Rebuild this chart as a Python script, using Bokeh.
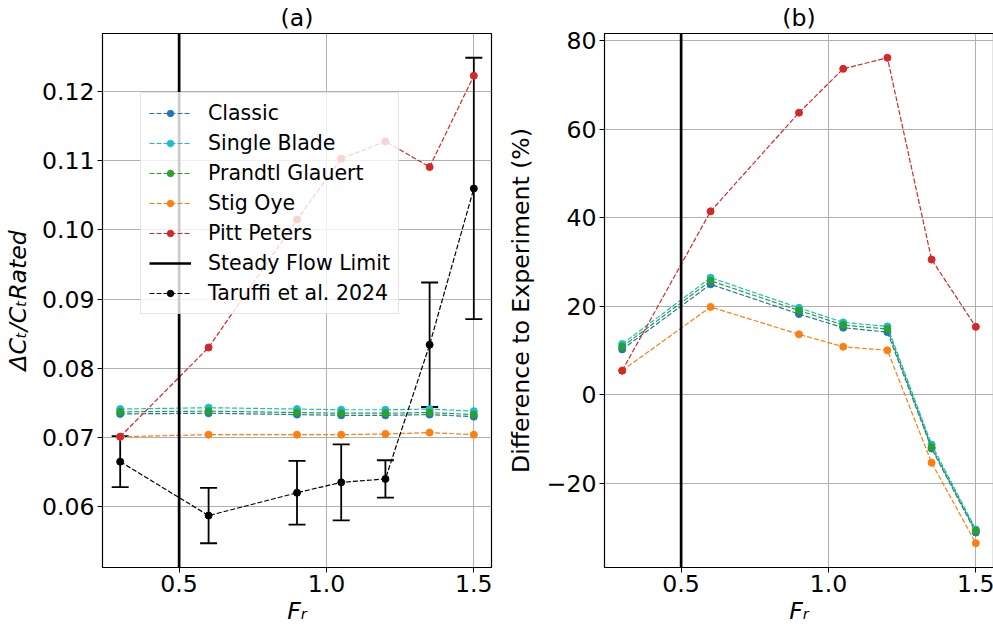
import numpy as np
from bokeh.plotting import figure
from bokeh.models import (Range1d, FixedTicker, PrintfTickFormatter, CustomJSTickFormatter,
                          Whisker, TeeHead, ColumnDataSource, Legend, LegendItem, Span)
from bokeh.layouts import row
from bokeh.embed import file_html
from bokeh.resources import INLINE

# Froude numbers of the test cases
fr = [0.3, 0.6, 0.9, 1.05, 1.2, 1.35, 1.5]
steady_flow_limit = 0.5

# (a) thrust amplitude normalised by rated thrust
ct_classic = [0.0734, 0.0735, 0.0733, 0.0732, 0.0732, 0.0733, 0.0730]
ct_single_blade = [0.0741, 0.0743, 0.0741, 0.0740, 0.0740, 0.0741, 0.0738]
ct_prandtl = [0.0737, 0.0738, 0.0736, 0.0735, 0.0735, 0.0736, 0.0733]
ct_stig_oye = [0.0701, 0.0704, 0.0704, 0.0704, 0.0705, 0.0707, 0.0704]
ct_pitt_peters = [0.0701, 0.0830, 0.1015, 0.1103, 0.1128, 0.1091, 0.1223]
ct_taruffi = [0.0665, 0.0587, 0.0620, 0.0635, 0.0640, 0.0834, 0.1060]
ct_taruffi_err = [0.0037, 0.0040, 0.0046, 0.0055, 0.0027, 0.0090, 0.0189]

# (b) difference to experiment, percent
diff_classic = [10.3, 25.0, 18.3, 15.2, 14.2, -12.1, -31.1]
diff_single_blade = [11.5, 26.5, 19.7, 16.4, 15.5, -11.2, -30.4]
diff_prandtl = [10.9, 25.8, 19.1, 15.8, 14.9, -11.8, -30.7]
diff_stig_oye = [5.5, 19.9, 13.7, 10.9, 10.1, -15.3, -33.5]
diff_pitt_peters = [5.5, 41.5, 63.8, 73.7, 76.2, 30.6, 15.4]

model_names = ["Classic", "Single Blade", "Prandtl Glauert", "Stig Oye", "Pitt Peters"]
model_colors = ["#1f77b4", "#17becf", "#2ca02c", "#ff7f0e", "#d62728"]

FONT = "DejaVu Sans"
BIG = "23.6px"
DASH = "5 2"


def padded(lo, hi, frac=0.05):
    span = hi - lo
    return lo - frac * span, hi + frac * span


def style(p, title):
    p.title.text = title
    p.title.align = "center"
    p.title.text_font = FONT
    p.title.text_font_size = BIG
    p.title.text_font_style = "normal"
    p.title.text_color = "black"
    p.title.standoff = 3
    p.outline_line_color = "black"
    p.outline_line_width = 1.2
    p.outline_line_alpha = 1.0
    for ax in (p.xaxis[0], p.yaxis[0]):
        ax.major_label_text_font = FONT
        ax.major_label_text_font_size = BIG
        ax.major_label_text_color = "black"
        ax.axis_label_text_font = FONT
        ax.axis_label_text_font_size = BIG
        ax.axis_label_text_color = "black"
        ax.major_tick_out = 5
        ax.major_tick_in = 0
        ax.major_tick_line_color = "black"
        ax.minor_tick_line_color = None
        ax.axis_line_color = "black"
    p.xaxis.major_label_standoff = 2
    p.xaxis.axis_label_standoff = 2
    p.yaxis.major_label_standoff = 3
    p.grid.grid_line_color = "#b0b0b0"
    p.grid.grid_line_width = 1
    p.xaxis.axis_label = "F\u1d63"
    p.xaxis.axis_label_text_font_style = "italic"
    p.xaxis.ticker = FixedTicker(ticks=[0.5, 1.0, 1.5])
    p.xaxis.formatter = PrintfTickFormatter(format="%.1f")
    p.xgrid.ticker = p.xaxis.ticker


x_lo, x_hi = padded(min(fr), max(fr))

# ---------------- panel (a) ----------------
upper = [y + e for y, e in zip(ct_taruffi, ct_taruffi_err)]
lower = [y - e for y, e in zip(ct_taruffi, ct_taruffi_err)]
ya_lo, ya_hi = padded(min(lower), max(upper))

pa = figure(output_backend="svg", toolbar_location=None,
            frame_width=389, frame_height=534,
            min_border_left=100, min_border_right=7, min_border_top=33, min_border_bottom=57,
            x_range=Range1d(x_lo, x_hi), y_range=Range1d(ya_lo, ya_hi))
style(pa, "(a)")
pa.yaxis.ticker = FixedTicker(ticks=[0.06, 0.07, 0.08, 0.09, 0.10, 0.11, 0.12])
pa.yaxis.formatter = PrintfTickFormatter(format="%.2f")
pa.ygrid.ticker = pa.yaxis.ticker
pa.yaxis.axis_label = "\u0394C\u209c/C\u209cRated"
pa.yaxis.axis_label_text_font_style = "italic"
pa.yaxis.axis_label_standoff = 7

items = []
for name, color, vals in zip(model_names, model_colors,
                             [ct_classic, ct_single_blade, ct_prandtl, ct_stig_oye, ct_pitt_peters]):
    ln = pa.line(fr, vals, line_color=color, line_width=1.2, line_dash=DASH)
    pt = pa.scatter(fr, vals, size=7, fill_color=color, line_color=color)
    items.append(LegendItem(label=name, renderers=[ln, pt]))

# steady flow limit: vertical line across the whole y range
steady = pa.line(x=[steady_flow_limit, steady_flow_limit], y=[ya_lo, ya_hi],
                 line_color="black", line_width=2.7)
items.append(LegendItem(label="Steady Flow Limit", renderers=[steady]))

src = ColumnDataSource(dict(x=fr, y=ct_taruffi, upper=upper, lower=lower))
pa.add_layout(Whisker(source=src, base="x", upper="upper", lower="lower", dimension="height",
                      line_color="black", line_width=1.8,
                      upper_head=TeeHead(size=17, line_color="black", line_width=1.8),
                      lower_head=TeeHead(size=17, line_color="black", line_width=1.8)))
t_ln = pa.line("x", "y", source=src, line_color="black", line_width=1.2, line_dash=DASH)
t_pt = pa.scatter("x", "y", source=src, size=7, fill_color="black", line_color="black")
items.append(LegendItem(label="Taruffi et al. 2024", renderers=[t_ln, t_pt]))

legend = Legend(items=items, location=(38, 253),
                label_text_font=FONT, label_text_font_size="20.5px", label_text_color="black",
                glyph_width=42, glyph_height=16, label_height=24, label_standoff=17,
                spacing=6, padding=8, margin=0,
                background_fill_color="white", background_fill_alpha=0.8,
                border_line_color="#cccccc", border_line_width=1)
pa.add_layout(legend)

# ---------------- panel (b) ----------------
all_diff = diff_classic + diff_single_blade + diff_prandtl + diff_stig_oye + diff_pitt_peters
yb_lo, yb_hi = padded(min(all_diff), max(all_diff))

pb = figure(output_backend="svg", toolbar_location=None,
            frame_width=389, frame_height=534,
            min_border_left=106, min_border_right=2, min_border_top=33, min_border_bottom=57,
            x_range=Range1d(x_lo, x_hi), y_range=Range1d(yb_lo, yb_hi))
style(pb, "(b)")
pb.yaxis.ticker = FixedTicker(ticks=[-20, 0, 20, 40, 60, 80])
pb.yaxis.formatter = CustomJSTickFormatter(
    code="return (tick < 0 ? '\u2212' : '') + Math.abs(tick).toFixed(0);")
pb.ygrid.ticker = pb.yaxis.ticker
pb.yaxis.axis_label = "Difference to Experiment (%)"
pb.yaxis.axis_label_text_font_style = "normal"
pb.yaxis.axis_label_standoff = 9

pb.add_layout(Span(location=steady_flow_limit, dimension="height",
                   line_color="black", line_width=2.7))
for color, vals in zip(model_colors,
                       [diff_classic, diff_single_blade, diff_prandtl, diff_stig_oye, diff_pitt_peters]):
    pb.line(fr, vals, line_color=color, line_width=1.2, line_dash=DASH)
    pb.scatter(fr, vals, size=7, fill_color=color, line_color=color)

layout = row(pa, pb)
open("out.html", "w").write(file_html(layout, INLINE))
